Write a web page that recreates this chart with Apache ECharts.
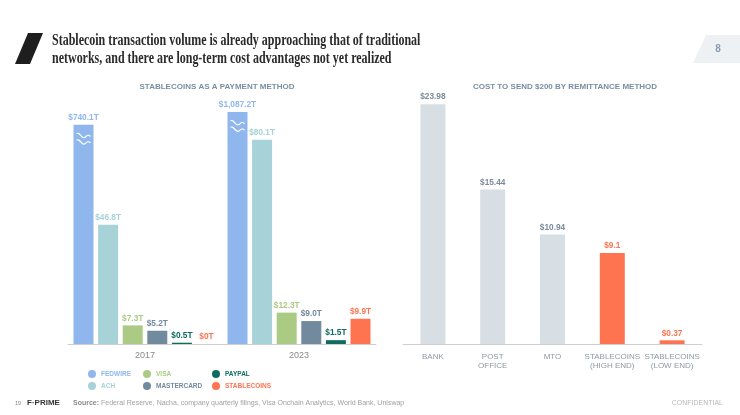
<!DOCTYPE html>
<html>
<head>
<meta charset="utf-8">
<script src="https://cdn.jsdelivr.net/npm/echarts@6/dist/echarts.min.js"></script>
<style>
html,body{margin:0;padding:0;background:#fff;}
#chart{width:740px;height:415px;}
</style>
</head>
<body>
<div id="chart"></div>
<script>
// ---- Data ----
const years = ['2017', '2023'];
const paymentNames = ['FEDWIRE', 'ACH', 'VISA', 'MASTERCARD', 'PAYPAL', 'STABLECOINS'];
const fedwireValues = [740.1, 1087.2];        // real values (labels)
const fedwireBarHeights = [86, 91];           // truncated heights on the broken axis
const achValues = [46.8, 80.1];
const visaValues = [7.3, 12.3];
const mastercardValues = [5.2, 9.0];
const paypalValues = [0.5, 1.5];
const stablecoinValues = [0, 9.9];

const remitCategories = ['BANK', 'POST\nOFFICE', 'MTO', 'STABLECOINS\n(HIGH END)', 'STABLECOINS\n(LOW END)'];
const remitCosts = [23.98, 15.44, 10.94, 9.1, 0.37];
const remitIsStablecoin = [false, false, false, true, true];

// ---- Styles ----
const colors = {
  FEDWIRE: '#8fb7ee', ACH: '#a6d2d8', VISA: '#abcb84',
  MASTERCARD: '#728a9e', PAYPAL: '#0d6b5f', STABLECOINS: '#ff7450'
};
const grey = '#d7dee4';
const greyLabel = '#7b8b9b';
const FONT = 'Liberation Sans, Arial, sans-serif';

function fmtT(v) {
  if (v === 0) return '$0T';
  return '$' + v.toLocaleString('en-US', {minimumFractionDigits: 1, maximumFractionDigits: 1}) + 'T';
}

function barSeries(name, values, labelValues) {
  return {
    name: name, type: 'bar', xAxisIndex: 0, yAxisIndex: 0,
    data: values, barWidth: 20, barGap: '23%',
    itemStyle: {color: colors[name]},
    label: {
      show: true, position: 'top', distance: 3,
      fontFamily: FONT, fontSize: 8.3, fontWeight: 'bold', color: colors[name],
      formatter: p => fmtT((labelValues || values)[p.dataIndex])
    },
    silent: true, animation: false
  };
}

const fed = barSeries('FEDWIRE', fedwireBarHeights, fedwireValues);
fed.markPoint = {
  symbol: 'path://M0,1 C3,-1 5,5 8,4 C10,3 11,1 14,3 M0,6 C3,4 5,10 8,9 C10,8 11,6 14,8',
  symbolSize: [14, 11],
  itemStyle: {color: 'rgba(0,0,0,0)', borderColor: '#ffffff', borderWidth: 1.2},
  label: {show: false},
  data: fedwireBarHeights.map((h, i) => ({coord: [i, h - 5.5]})),
  silent: true, animation: false
};

const leftSeries = [
  fed,
  barSeries('ACH', achValues),
  barSeries('VISA', visaValues),
  barSeries('MASTERCARD', mastercardValues),
  barSeries('PAYPAL', paypalValues),
  barSeries('STABLECOINS', stablecoinValues)
];

function legendFor(names, left) {
  return {
    left: left, top: 365, orient: 'vertical', itemGap: 4,
    itemWidth: 8, itemHeight: 8, icon: 'circle', selectedMode: false,
    data: names.map(n => ({name: n, textStyle: {color: colors[n]}})),
    textStyle: {fontFamily: FONT, fontSize: 6.5, fontWeight: 'bold'}
  };
}

const remitData = remitCosts.map((v, i) => ({
  value: v,
  itemStyle: {color: remitIsStablecoin[i] ? colors.STABLECOINS : grey},
  label: {color: remitIsStablecoin[i] ? colors.STABLECOINS : greyLabel}
}));

const chart = echarts.init(document.getElementById('chart'), null, {renderer: 'canvas'});
chart.setOption({
  animation: false,
  grid: [
    {left: 68, right: 364, top: 89, bottom: 71},
    {left: 403, right: 38, top: 94, bottom: 71}
  ],
  xAxis: [
    {type: 'category', gridIndex: 0, data: years,
     axisLine: {lineStyle: {color: '#cfcfcf', width: 1}}, axisTick: {show: false},
     axisLabel: {fontFamily: FONT, fontSize: 9, color: '#8a8a8a', margin: 7}},
    {type: 'category', gridIndex: 1, data: remitCategories,
     axisLine: {lineStyle: {color: '#cfcfcf', width: 1}}, axisTick: {show: false},
     axisLabel: {interval: 0, fontFamily: FONT, fontSize: 8, color: '#8d99a5', margin: 8, lineHeight: 9}}
  ],
  yAxis: [
    {type: 'value', gridIndex: 0, min: 0, max: 100, show: false},
    {type: 'value', gridIndex: 1, min: 0, max: 25, show: false}
  ],
  legend: [
    legendFor(['FEDWIRE', 'ACH'], 83),
    legendFor(['VISA', 'MASTERCARD'], 138),
    legendFor(['PAYPAL', 'STABLECOINS'], 207)
  ],
  series: leftSeries.concat([{
    name: 'Cost', type: 'bar', xAxisIndex: 1, yAxisIndex: 1,
    data: remitData, barWidth: 25,
    label: {
      show: true, position: 'top', distance: 3,
      fontFamily: FONT, fontSize: 8.3, fontWeight: 'bold',
      formatter: p => '$' + remitCosts[p.dataIndex]
    },
    silent: true
  }]),
  graphic: [
    // logo parallelogram
    {type: 'polygon', shape: {points: [[28, 33], [43, 33], [30, 64], [15, 64]]}, style: {fill: '#1e1e1e'}},
    // title
    {type: 'text', x: 52, y: 32, scaleX: 0.705,
     style: {text: 'Stablecoin transaction volume is already approaching that of traditional\nnetworks, and there are long-term cost advantages not yet realized',
       fontFamily: 'Liberation Serif, Times New Roman, serif', fontSize: 17, fontWeight: 'bold',
       lineHeight: 18, fill: '#2a2a2a', textVerticalAlign: 'top'}},
    // page number box
    {type: 'polygon', shape: {points: [[706, 35], [740, 35], [740, 63], [693, 63]]}, style: {fill: '#eef1f4'}},
    {type: 'text', x: 718, y: 49, style: {text: '8', fontFamily: FONT, fontSize: 10, fontWeight: 'bold', fill: '#8c9bb0', textAlign: 'center', textVerticalAlign: 'middle'}},
    // subtitles
    {type: 'text', x: 217, y: 87, style: {text: 'STABLECOINS AS A PAYMENT METHOD', fontFamily: FONT, fontSize: 8, fontWeight: 'bold', fill: '#7a8ea2', textAlign: 'center', textVerticalAlign: 'middle'}},
    {type: 'text', x: 565, y: 87, style: {text: 'COST TO SEND $200 BY REMITTANCE METHOD', fontFamily: FONT, fontSize: 8, fontWeight: 'bold', fill: '#7a8ea2', textAlign: 'center', textVerticalAlign: 'middle'}},
    // footer
    {type: 'text', x: 15, y: 403, style: {text: '19', fontFamily: FONT, fontSize: 5.5, fill: '#888', textVerticalAlign: 'middle'}},
    {type: 'text', x: 27, y: 403, style: {text: 'F·PRIME', fontFamily: FONT, fontSize: 8, fontWeight: 'bold', fill: '#333', textVerticalAlign: 'middle'}},
    {type: 'text', x: 73, y: 403, style: {
      text: '{b|Source:} Federal Reserve, Nacha, company quarterly filings, Visa Onchain Analytics, World Bank, Uniswap',
      fontFamily: FONT, fontSize: 7, fill: '#a2a2a2', textVerticalAlign: 'middle',
      rich: {b: {fontFamily: FONT, fontSize: 7, fontWeight: 'bold', fill: '#8a8a8a'}}}},
    {type: 'text', x: 723, y: 403, style: {text: 'CONFIDENTIAL', fontFamily: FONT, fontSize: 7, fill: '#b8b8b8', textAlign: 'right', textVerticalAlign: 'middle'}}
  ]
});
</script>
</body>
</html>
